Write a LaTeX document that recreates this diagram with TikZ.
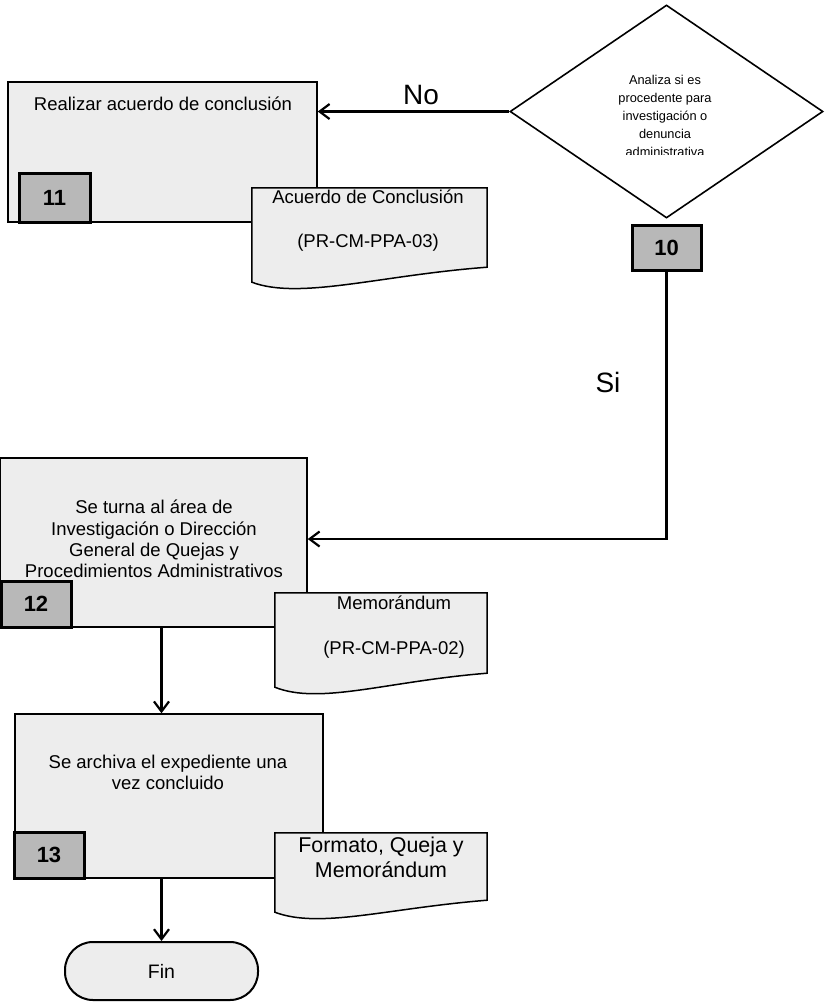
\documentclass[tikz,border=0pt]{standalone}
\usepackage{fontspec}
\setmainfont{Liberation Sans}
\usetikzlibrary{shapes.geometric,arrows.meta,calc}
\definecolor{boxfill}{gray}{0.93}
\definecolor{numfill}{gray}{0.72}
\begin{document}
\begin{tikzpicture}[x=1pt,y=-1pt,
  procbox/.style={draw, fill=boxfill, line width=1.5pt, inner sep=0pt},
  numbox/.style={draw, fill=numfill, line width=3pt, inner sep=0pt,
    minimum width=70pt, minimum height=46pt,
    font=\fontsize{22}{22}\selectfont\bfseries},
  txt/.style={align=center, inner sep=0pt, font=\fontsize{18.5}{21.3}\selectfont},
  conn/.style={line width=2.6pt},
  arr/.style={conn, -{Straight Barb[length=10pt,width=15pt,line width=2.2pt]}},
  lbl/.style={font=\fontsize{28}{28}\selectfont, inner sep=0pt},
  docbox/.style={inner sep=0pt},
  docline/.style={draw, fill=boxfill, line width=1.5pt},
]
\useasboundingbox (0,0) rectangle (833,1002);

% decision
\node[draw, diamond, fill=white, line width=1.6pt, minimum width=313pt,
      minimum height=213pt, inner sep=0pt] (dec) at (666.5,111.5) {};
\begin{scope}
  \clip (560,60) rectangle (770,154);
  \node[align=center, inner sep=0pt, font=\fontsize{12.8}{17.8}\selectfont]
    (dectext) at (665,116) {Analiza si es\\procedente para\\investigación o\\denuncia\\administrativa};
\end{scope}
\node[numbox, minimum width=69pt, minimum height=45pt] (b10) at (666.5,247.5) {10};

% box 11
\node[procbox, minimum width=309pt, minimum height=140pt] (b11) at (162.5,152) {};
\node[txt] (t11) at (163,104) {Realizar acuerdo de conclusión};
\node[numbox, minimum width=71pt, minimum height=49pt] (n11) at (54.5,197.5) {11};

% document 1
\node[docbox, minimum width=235pt, minimum height=79pt] (doc1) at (369.5,227.5) {};
\path[docline] (doc1.north west) -- (doc1.north east) -- (doc1.south east)
  .. controls +(-107,8) and +(48,18) .. ($(doc1.south west)+(0,15)$) -- cycle;
\node[txt, font=\fontsize{18.5}{44}\selectfont] (d1text) at (368,221) {Acuerdo de Conclusión\\(PR-CM-PPA-03)};

% box 12
\node[procbox, minimum width=307pt, minimum height=169pt] (b12) at (153.5,542.5) {};
\node[txt] (t12) at (154,539) {Se turna al área de\\Investigación o Dirección\\General de Quejas y\\Procedimientos Administrativos};
\node[numbox] (n12) at (36,604) {12};

% document 2
\node[docbox, minimum width=212pt, minimum height=80pt] (doc2) at (381,633) {};
\path[docline] (doc2.north west) -- (doc2.north east) -- (doc2.south east)
  .. controls +(-100,8) and +(45,18) .. ($(doc2.south west)+(0,14)$) -- cycle;
\node[txt, font=\fontsize{18.5}{45}\selectfont] (d2text) at (394,627.5) {Memorándum\\(PR-CM-PPA-02)};

% box 13
\node[procbox, minimum width=308pt, minimum height=164pt] (b13) at (169,796) {};
\node[txt] (t13) at (168,772.5) {Se archiva el expediente una\\vez concluido};
\node[numbox] (n13) at (49,855) {13};

% document 3
\node[docbox, minimum width=212pt, minimum height=67pt] (doc3) at (381,866.5) {};
\path[docline] (doc3.north west) -- (doc3.north east) -- (doc3.south east)
  .. controls +(-100,8) and +(45,17) .. ($(doc3.south west)+(0,12)$) -- cycle;
\node[txt, font=\fontsize{21.4}{25}\selectfont] (d3text) at (381,857.5) {Formato, Queja y\\Memorándum};

% end
\node[draw, fill=boxfill, rounded corners=28pt, line width=2pt, minimum width=193pt,
      minimum height=58pt, inner sep=0pt, font=\fontsize{19.5}{19.5}\selectfont] (fin) at (161.5,971) {Fin};

% connectors
\draw[arr] (dec.west) -- (dec.west -| b11.east);
\node[lbl] (no) at (421,95) {No};
\coordinate (turn) at (666.5,539);
\draw[arr] (b10.south) -- (turn) -- (turn -| b12.east);
\node[lbl] (si) at (608,382) {Si};
\draw[arr] (b12.south -| fin.north) -- (b13.north -| fin.north);
\draw[arr] (b13.south -| fin.north) -- (fin.north);
\end{tikzpicture}
\end{document}
